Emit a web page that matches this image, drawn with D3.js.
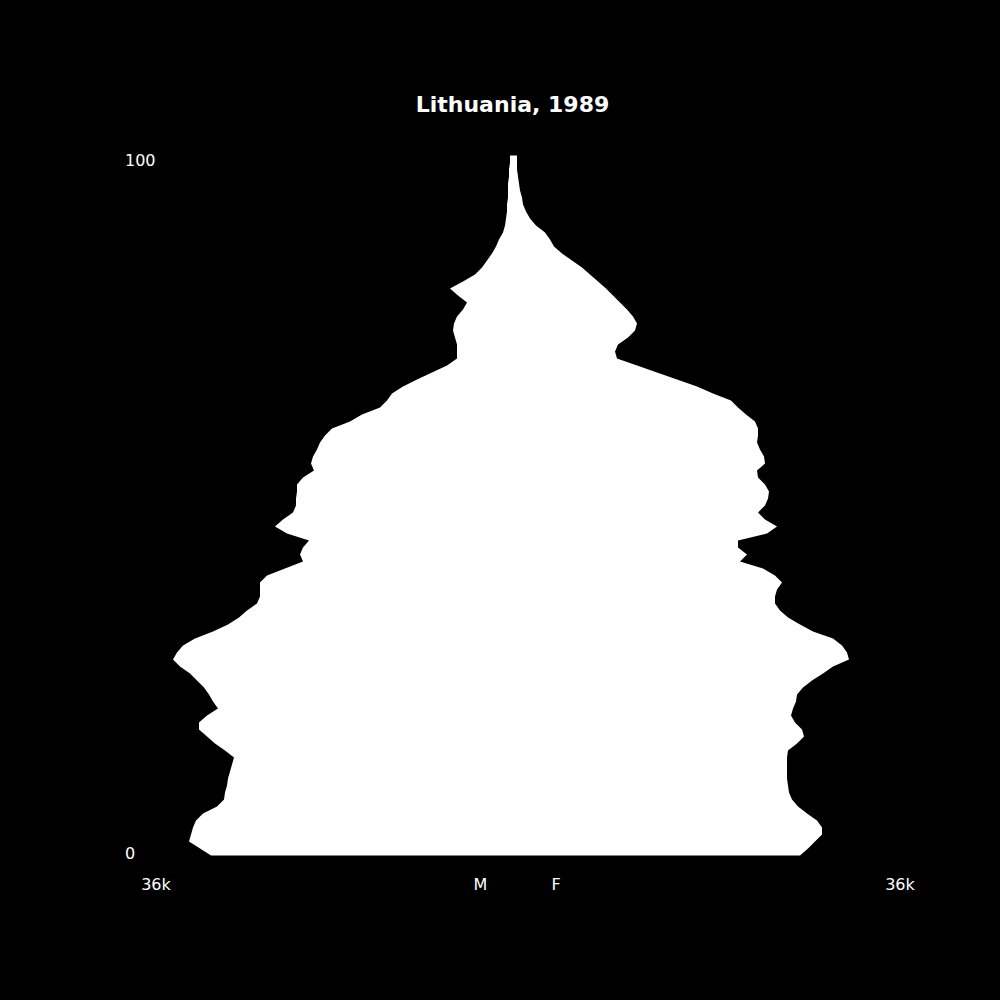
<!DOCTYPE html>
<html>
<head>
<meta charset="utf-8">
<script src="https://cdn.jsdelivr.net/npm/d3@7"></script>
<style>
  html, body { margin: 0; padding: 0; background: #000; }
  svg { display: block; font-family: "DejaVu Sans", sans-serif; }
</style>
</head>
<body>
<div id="chart"></div>
<script>
// Data: population by single year of age, in thousands
var title = "Lithuania, 1989";
var ages = d3.range(0, 101);

var male = [
  30.3, 31.4, 32.5, 32.3, 32.1, 31.8, 31.1, 29.7, 29.0, 28.9,
  28.7, 28.6, 28.4, 28.2, 28.0, 28.9, 29.9, 30.7, 31.5, 31.5,
  30.7, 29.6, 30.1, 30.5, 31.0, 31.7, 32.4, 33.4, 34.1, 33.7,
  33.1, 31.9, 30.1, 28.6, 27.5, 26.7, 25.7, 25.4, 25.4, 25.4,
  24.7, 22.9, 21.1, 21.4, 21.1, 20.5, 22.7, 23.9, 23.1, 22.1,
  21.8, 21.8, 21.7, 21.7, 21.1, 20.0, 20.3, 20.1, 19.7, 19.4,
  18.9, 18.2, 16.4, 15.2, 13.4, 12.7, 12.2, 11.1, 9.7, 8.2,
  6.7, 5.7, 5.7, 5.7, 5.9, 6.1, 6.0, 5.7, 5.1, 4.7,
  5.6, 6.4, 5.1, 3.9, 3.2, 2.7, 2.2, 1.8, 1.5, 1.1,
  0.9, 0.8, 0.7, 0.7, 0.6, 0.6, 0.6, 0.5, 0.5, 0.4, 0.4
];

var female = [
  28.6, 29.4, 30.1, 30.8, 30.8, 30.3, 29.3, 28.4, 27.8, 27.5,
  27.4, 27.3, 27.3, 27.3, 27.3, 27.4, 28.3, 29.0, 28.8, 28.1,
  27.7, 27.9, 28.2, 28.3, 28.9, 29.8, 30.9, 31.9, 33.5, 33.3,
  32.8, 31.9, 29.9, 28.6, 27.4, 26.6, 26.1, 26.1, 26.3, 26.8,
  26.1, 24.9, 22.6, 23.3, 22.4, 22.4, 25.3, 26.3, 25.1, 24.4,
  25.1, 25.4, 25.5, 25.1, 24.4, 24.3, 25.1, 25.0, 24.6, 24.3,
  24.4, 24.4, 24.1, 23.2, 22.4, 21.7, 19.9, 18.3, 16.3, 14.3,
  12.3, 10.3, 10.1, 10.4, 11.4, 12.1, 12.3, 11.9, 11.3, 10.6,
  9.9, 9.2, 8.4, 7.6, 6.8, 5.8, 4.8, 4.0, 3.6, 3.1,
  2.2, 1.6, 1.2, 0.9, 0.8, 0.6, 0.5, 0.4, 0.3, 0.3, 0.3
];

var ageTickLabels = ["0", "100"];
var popTickLabels = ["36k", "36k"];
var sexLabels = ["M", "F"];

// Chart setup
var svgWidth = 1000;
var svgHeight = 1000;
var cx = 514;

var svg = d3.select("#chart")
  .append("svg")
  .attr("width", svgWidth)
  .attr("height", svgHeight);

svg.append("rect")
  .attr("width", svgWidth)
  .attr("height", svgHeight)
  .attr("fill", "#000");

// Scales
var yScale = d3.scaleLinear().domain([0, 100]).range([855.5, 155.5]);
var xMale = d3.scaleLinear().domain([0, 36]).range([cx, cx - 360]);
var xFemale = d3.scaleLinear().domain([0, 36]).range([cx, cx + 360]);

// Outline: males up the left side, females back down the right
var outline = ages.map(function(a, i) { return [xMale(male[i]), yScale(a)]; })
  .concat(ages.slice().reverse().map(function(a) { return [xFemale(female[a]), yScale(a)]; }));

svg.append("path")
  .datum(outline)
  .attr("d", d3.line().curve(d3.curveLinearClosed))
  .attr("fill", "#fff");

// Title
svg.append("text")
  .attr("x", 512.5)
  .attr("y", 112)
  .attr("text-anchor", "middle")
  .attr("font-size", "22px")
  .attr("font-weight", "bold")
  .attr("fill", "#fff")
  .text(title);

// Age labels
svg.append("text")
  .attr("x", 125)
  .attr("y", 859)
  .attr("font-size", "16px")
  .attr("fill", "#fff")
  .text(ageTickLabels[0]);

svg.append("text")
  .attr("x", 125)
  .attr("y", 166)
  .attr("font-size", "16px")
  .attr("fill", "#fff")
  .text(ageTickLabels[1]);

// Bottom labels
svg.append("text")
  .attr("x", 156)
  .attr("y", 890)
  .attr("text-anchor", "middle")
  .attr("font-size", "16px")
  .attr("fill", "#fff")
  .text(popTickLabels[0]);

svg.append("text")
  .attr("x", 900)
  .attr("y", 890)
  .attr("text-anchor", "middle")
  .attr("font-size", "16px")
  .attr("fill", "#fff")
  .text(popTickLabels[1]);

svg.append("text")
  .attr("x", 480.5)
  .attr("y", 890)
  .attr("text-anchor", "middle")
  .attr("font-size", "16px")
  .attr("fill", "#fff")
  .text(sexLabels[0]);

svg.append("text")
  .attr("x", 556)
  .attr("y", 890)
  .attr("text-anchor", "middle")
  .attr("font-size", "16px")
  .attr("fill", "#fff")
  .text(sexLabels[1]);
</script>
</body>
</html>
